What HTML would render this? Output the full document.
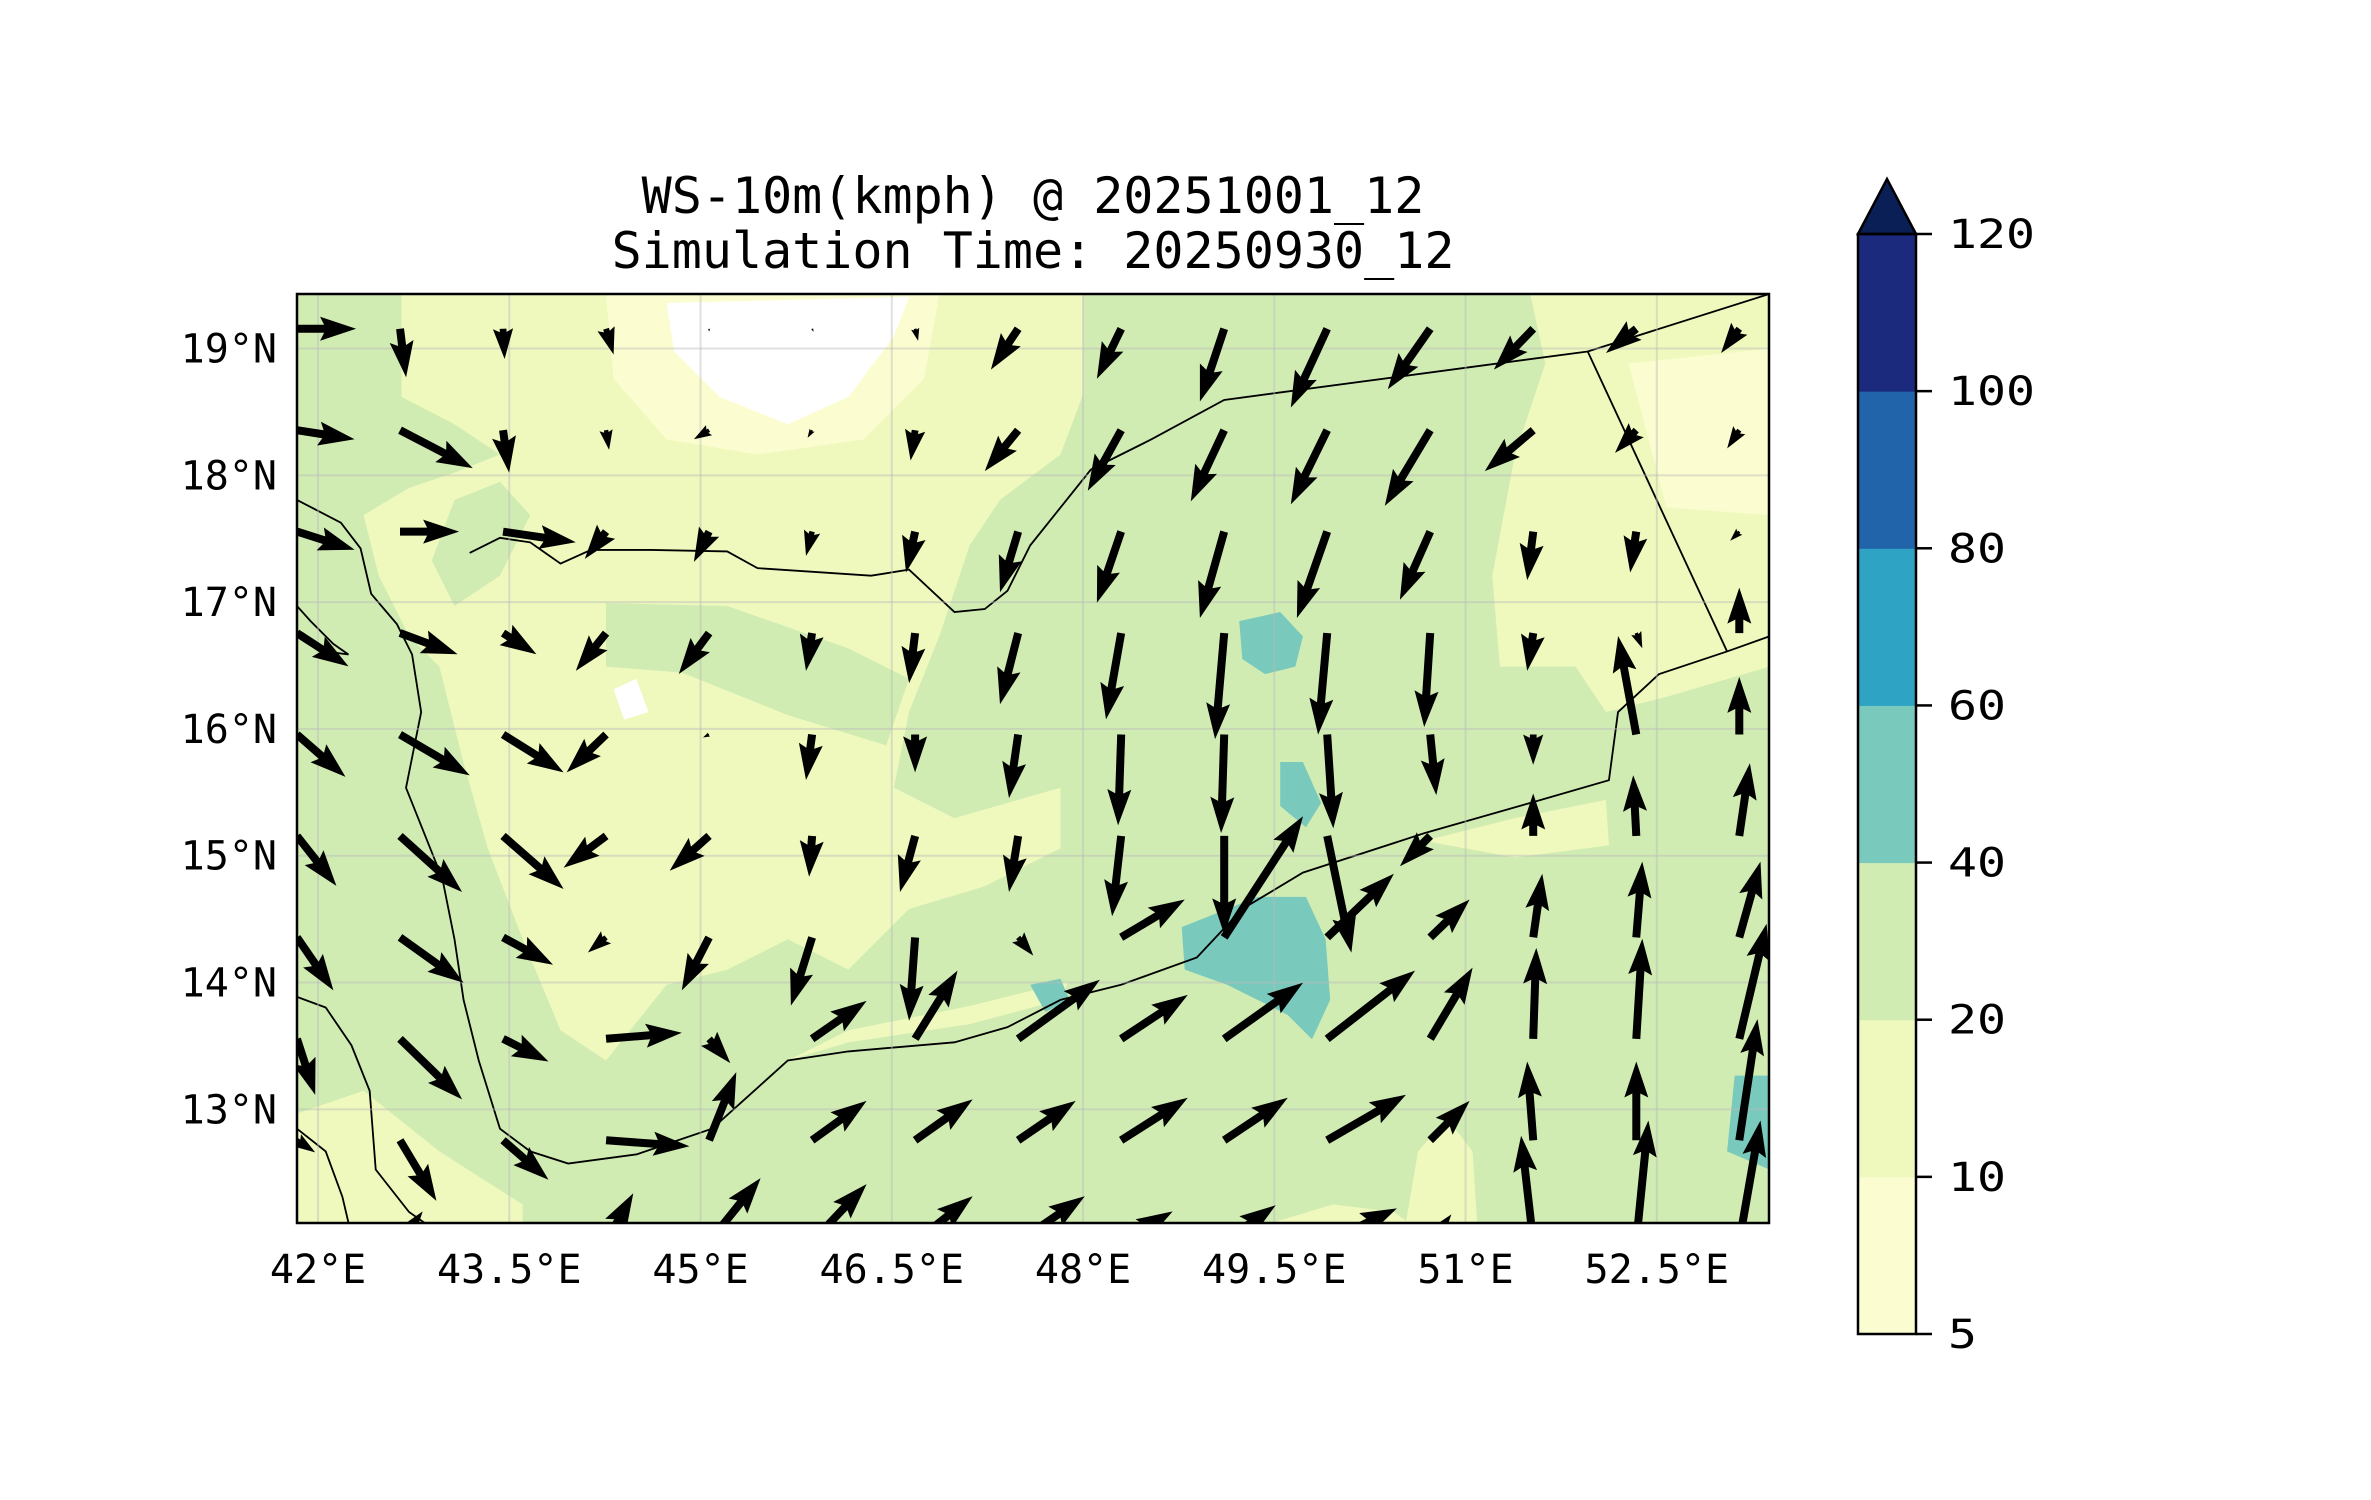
<!DOCTYPE html>
<html><head><meta charset="utf-8"><title>WS-10m map</title>
<style>html,body{margin:0;padding:0;background:#fff}svg{display:block}text{font-family:"DejaVu Sans Mono","Liberation Mono",monospace}</style>
</head><body>
<svg id="fig" width="2371" height="1500" viewBox="0 0 2371 1500" xmlns="http://www.w3.org/2000/svg">
<defs><clipPath id="axclip"><rect x="297" y="294" width="1472" height="929"/></clipPath></defs>
<rect width="2371" height="1500" fill="#fff"/>
<text x="1033" y="213" font-size="50" text-anchor="middle">WS-10m(kmph) @ 20251001_12</text>
<text x="1033" y="268" font-size="50" text-anchor="middle">Simulation Time: 20250930_12</text>
<g clip-path="url(#axclip)">
 <rect x="297" y="294" width="1472" height="929" fill="#d0ecb3"/>
 <g transform="scale(1.515)">
  <polygon fill="#eff9bd" points="265,194 715,194 715,260 700,300 660,330 640,360 620,420 600,470 590,520 630,540 700,520 700,560 650,585 600,600 560,640 520,620 480,640 440,650 400,700 370,680 345,620 322,560 305,500 290,440 270,420 250,380 240,340 270,322 300,312 330,300 300,280 265,262"/>
  <polygon fill="#d0ecb3" points="400,398 480,400 560,428 600,448 585,492 520,472 450,444 400,440"/>
  <polygon fill="#d0ecb3" points="300,330 330,318 350,340 330,380 300,400 285,370"/>
  <polygon fill="#eff9bd" points="1010,194 1168,194 1168,440 1100,460 1060,470 1040,440 990,440 985,380 1000,300 1020,240"/>
  <polygon fill="#eff9bd" points="196,735 240,720 290,760 345,795 345,807 196,807"/>
  <polygon fill="#eff9bd" points="520,700 560,688 640,676 700,660 705,648 640,664 560,680"/>
  <polygon fill="#eff9bd" points="928,807 936,760 955,738 972,760 975,807"/>
  <polygon fill="#eff9bd" points="940,555 1000,540 1060,528 1062,558 1000,566"/>
  <polygon fill="#eff9bd" points="840,807 880,795 920,800 930,807"/>
  <polygon fill="#fbfdd0" points="400,194 620,194 610,250 570,290 500,300 440,290 405,250"/>
  <polygon fill="#fbfdd0" points="1075,240 1168,230 1168,340 1100,335"/>
  <polygon fill="#ffffff" points="440,200 600,196 590,222 560,262 520,280 475,262 445,232"/>
  <polygon fill="#ffffff" points="405,455 420,448 428,470 412,475"/>
  <polygon fill="#79c9bc" points="818,410 845,404 860,420 855,440 835,445 820,435"/>
  <polygon fill="#79c9bc" points="780,612 830,592 862,592 875,620 878,660 866,686 850,670 810,650 782,640"/>
  <polygon fill="#79c9bc" points="845,503 860,503 872,530 862,546 845,532"/>
  <polygon fill="#79c9bc" points="680,650 700,646 706,660 690,668"/>
  <polygon fill="#79c9bc" points="1145,710 1168,710 1168,772 1140,760"/>
  <g fill="none" stroke="#000" stroke-width="1.2">
   <polyline points="196,330 225,345 238,362 245,392 262,412 272,432 278,470 268,520 278,545 292,580 300,620 306,660 316,700 330,745 350,760 375,768 420,762 470,745 500,718 520,700 560,694 630,688 665,678 700,660 740,650 790,632 820,600 860,576 940,550 1010,530 1062,515 1068,470 1095,445 1140,430 1168,420"/>
   <polyline points="196,658 215,665 232,690 244,720 248,772 270,800 280,807"/>
   <polyline points="196,745 215,760 226,790 230,807"/>
   <polyline points="310,365 330,355 350,358 370,372 390,363 430,363 480,364 500,375 575,380 600,376 630,404 650,402 665,390 680,360 720,310 760,290 808,264 1048,232 1168,194"/>
   <polyline points="1048,232 1140,430"/>
   <polyline points="196,400 205,410 220,425 230,432 215,430 200,418"/>
  </g>
 </g>
 <g id="grid" stroke="#bbbbbb" stroke-opacity="0.45" stroke-width="2"></g>
 <g id="quiver"></g>
</g>
<rect x="297" y="294" width="1472" height="929" fill="none" stroke="#000" stroke-width="2.5"/>
<g id="ticks" font-size="40"></g>
<g id="cbar"></g>
</svg>
<script>
const lonTicks=[42,43.5,45,46.5,48,49.5,51,52.5];
const latTicks=[13,14,15,16,17,18,19];
const cbLevels=["5","10","20","40","60","80","100","120"];
const cbColors=["#fbfdd0","#eff9bd","#d0ecb3","#79c9bc","#2ea3c4","#2164aa","#1b2a7c"];
const qLon0=41.835, qDLon=0.808, qLat0=19.156, qDLat=0.80;
const u=[
[39,4,1,5,0,1,2,-18,-16,-16,-24,-28,-26,-20,-12],
[38,48,4,2,-10,-3,-3,-22,-22,-22,-24,-30,-32,-14,-8],
[38,39,48,-14,-10,-4,-6,-12,-16,-16,-20,-20,-4,-4,-6],
[34,38,22,-20,-20,-4,-4,-12,-10,-6,-6,-4,-4,4,0],
[32,46,40,-26,-4,-4,0,-6,-2,-2,4,4,0,-12,0],
[26,41,40,-28,-26,-2,-10,-6,-6,0,16,-20,0,-2,7],
[24,42,33,-12,-18,-14,-4,10,42,52,44,26,6,4,14],
[12,41,30,50,14,36,28,54,44,52,58,28,2,4,18],
[12,24,30,55,18,36,38,38,44,42,52,26,-4,0,12],
[10,15,14,18,34,36,38,44,34,34,46,14,-8,8,14]];
const v=[
[0,-32,-20,-17,-2,-2,-8,-27,-33,-48,-52,-40,-27,-16,-16],
[-6,-25,-28,-13,-6,-5,-20,-27,-40,-47,-49,-50,-27,-15,-12],
[-12,0,-7,-18,-20,-16,-27,-40,-47,-57,-57,-45,-32,-27,-6],
[-22,-14,-14,-25,-27,-25,-33,-47,-57,-70,-67,-62,-25,-10,30],
[-28,-27,-25,-25,-2,-30,-25,-42,-60,-65,-62,-40,-20,65,38],
[-33,-37,-35,-21,-23,-27,-37,-37,-53,-65,-77,-20,28,40,48],
[-35,-30,-18,-10,-35,-45,-55,-12,25,80,42,25,42,50,50],
[-37,-40,-15,4,-16,25,45,39,29,37,45,47,60,66,76],
[-8,-40,-26,-4,45,26,27,26,28,28,30,26,52,52,80],
[10,20,-14,32,42,38,30,30,20,24,22,18,70,80,80]];
const PX=1.515;
function X(lon){return 297+(lon-41.835)*127.5;}
function Y(lat){return 294+(19.43-lat)*126.8;}
const NS="http://www.w3.org/2000/svg";
function mk(tag,attrs,parent){const e=document.createElementNS(NS,tag);for(const k in attrs)e.setAttribute(k,attrs[k]);parent.appendChild(e);return e;}
const grid=document.getElementById('grid');
lonTicks.forEach(l=>{const e=mk('line',{x1:X(l),x2:X(l),y1:294,y2:1223},grid);

});
latTicks.forEach(l=>{const e=mk('line',{x1:297,x2:1769,y1:Y(l),y2:Y(l)},grid);

});
const ticks=document.getElementById('ticks');
lonTicks.forEach(l=>{const t=mk('text',{x:X(l),y:1283,'text-anchor':'middle'},ticks);t.textContent=l+'°E';

});
latTicks.forEach(l=>{const t=mk('text',{x:277,y:Y(l)+14,'text-anchor':'end'},ticks);t.textContent=l+'°N';

});
const q=document.getElementById('quiver');
const W=4,HL=36,HA=32,HW=12;
for(let r=0;r<u.length;r++)for(let c=0;c<u[r].length;c++){
 const x0=X(qLon0+c*qDLon),y0=Y(qLat0-r*qDLat);
 const dx=u[r][c]*PX,dy=-v[r][c]*PX;const L=Math.hypot(dx,dy);if(L<1)continue;
 let s=1;if(L<HL)s=L/HL;
 const w=W*s,hl=HL*s,ha=HA*s,hw=HW*s;
 const pts=[[0,-w],[L-ha,-w],[L-hl,-hw],[L,0],[L-hl,hw],[L-ha,w],[0,w]];
 const ca=dx/L,sa=dy/L;
 const p=pts.map(([a,b])=>(x0+a*ca-b*sa).toFixed(1)+','+(y0+a*sa+b*ca).toFixed(1)).join(' ');
 const e=mk('polygon',{points:p,fill:'#000'},q);
 
 
}
const cb=document.getElementById('cbar');
const cx=1858,cw=58,ctop=234,cbot=1334,n=cbColors.length,bh=(cbot-ctop)/n;
cbColors.forEach((col,i)=>{const e=mk('rect',{x:cx,y:cbot-(i+1)*bh,width:cw,height:bh+0.5,fill:col},cb);

});
const tri=mk('polygon',{points:cx+','+ctop+' '+(cx+cw/2)+',179 '+(cx+cw)+','+ctop,fill:'#0b1f57',stroke:'#000','stroke-width':2.5},cb);


const fr=mk('rect',{x:cx,y:ctop,width:cw,height:cbot-ctop,fill:'none',stroke:'#000','stroke-width':2.5},cb);


cbLevels.forEach((lab,i)=>{const y=cbot-i*bh;
 const tk=mk('line',{x1:cx+cw,x2:cx+cw+16,y1:y,y2:y,stroke:'#000','stroke-width':2.5},cb);
 
 
 const t=mk('text',{x:1948,y:y+14,'font-size':40,textLength:lab.length*29,lengthAdjust:'spacingAndGlyphs'},cb);t.textContent=lab;
 
 
});
</script>
</body></html>
